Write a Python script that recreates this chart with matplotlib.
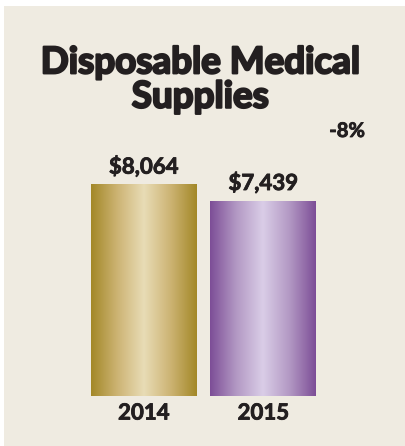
import numpy as np
import matplotlib.pyplot as plt
import matplotlib.patheffects as pe
from matplotlib.colors import LinearSegmentedColormap

years = ['2014', '2015']
values = [8064, 7439]
value_labels = ['$8,064', '$7,439']
change_label = '-8%'
title = 'Disposable Medical\nSupplies'

bg = '#efebe1'
ink = '#231f20'
shades = [
    ['#a38828', '#cdb474', '#e8dcb6', '#cdb474', '#a38828'],
    ['#7d4e97', '#b399c4', '#dacde7', '#b399c4', '#7d4e97'],
]

W, H = 405, 446
fig = plt.figure(figsize=(W / 100, H / 100), dpi=100)
fig.patch.set_facecolor('white')
# beige panel (thin white strip top/left)
fig.patches.append(plt.Rectangle((4 / W, 0), 1, 1 - 6 / H, transform=fig.transFigure,
                                 facecolor=bg, edgecolor='none', zorder=0))

ax = fig.add_axes([84 / W, 50 / H, 239 / W, 235.5 / H], zorder=2)
ax.axis('off')

width = 0.887
grad = np.linspace(0, 1, 256).reshape(1, -1)
for i, v in enumerate(values):
    cmap = LinearSegmentedColormap.from_list(f'c{i}', shades[i])
    ax.imshow(grad, cmap=cmap, aspect='auto',
              extent=(i - width / 2, i + width / 2, 0, v), zorder=2)
    ax.text(i, v + 280, value_labels[i], ha='center', va='bottom',
            fontsize=16, fontweight='bold', family='Lato', color=ink,
            path_effects=[pe.withStroke(linewidth=0.6, foreground=ink)])
    ax.text(i, -250, years[i], ha='center', va='top', clip_on=False,
            fontsize=16, fontweight='bold', family='Lato', color=ink,
            path_effects=[pe.withStroke(linewidth=0.6, foreground=ink)])
ax.set_xlim(-0.5, 1.5)
ax.set_ylim(0, 9000)

fig.text(200 / W, 1 - 80 / H, title, ha='center', va='center', fontsize=26.5,
         fontweight='bold', family='Lato', color=ink, linespacing=1.05,
         path_effects=[pe.withStroke(linewidth=1.6, foreground=ink)])
fig.text(347 / W, 1 - 131 / H, change_label, ha='center', va='center',
         fontsize=14.5, fontweight='bold', family='Lato', color=ink,
         path_effects=[pe.withStroke(linewidth=0.6, foreground=ink)])

fig.savefig('out.png', dpi=100, facecolor=fig.get_facecolor())
